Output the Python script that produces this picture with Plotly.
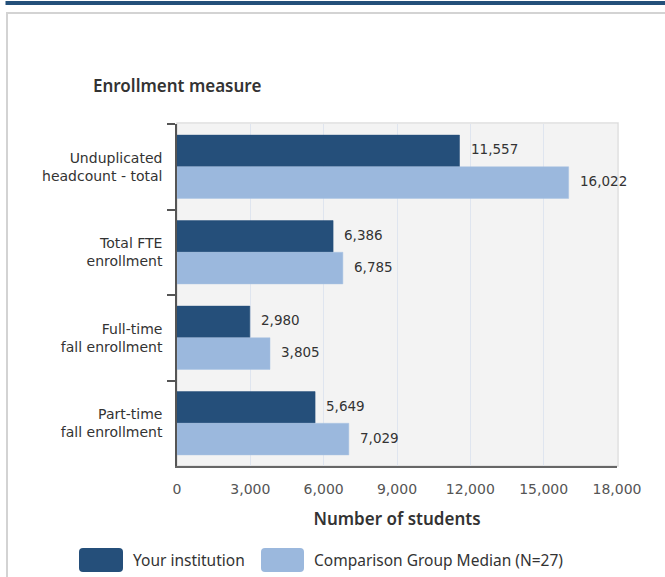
import plotly.graph_objects as go

categories = ["Unduplicated<br>headcount - total", "Total FTE<br>enrollment",
              "Full-time<br>fall enrollment", "Part-time<br>fall enrollment"]
your_institution = [11557, 6386, 2980, 5649]
comparison_median = [16022, 6785, 3805, 7029]
series_names = ["Your institution", "Comparison Group Median (N=27)"]
tick_vals = [0, 3000, 6000, 9000, 12000, 15000, 18000]

DARK = "#254f7a"
LIGHT = "#9bb8dd"

W, H = 665, 577
L, T = 177, 124
PW, PH = 440, 342
R, B = W - L - PW, H - T - PH


def px(x):
    return (x - L) / PW


def py(y):
    return (T + PH - y) / PH


fig = go.Figure()
fig.add_trace(go.Bar(y=categories, x=your_institution, name=series_names[0], orientation="h",
                     marker=dict(color=DARK, line=dict(color=DARK, width=0.5)), showlegend=False))
fig.add_trace(go.Bar(y=categories, x=comparison_median, name=series_names[1], orientation="h",
                     marker=dict(color=LIGHT, line=dict(color="#a9c2e2", width=0.5)), showlegend=False))

lab_font = dict(family="DejaVu Sans", size=13.5, color="#333333")
for vals, shift in ((your_institution, 17.5), (comparison_median, -14.5)):
    for c, v in zip(categories, vals):
        fig.add_annotation(x=v, y=c, text=f"{v:,}", showarrow=False, xanchor="left",
                           xshift=9, yshift=shift, font=lab_font)

shapes = []
# top dark band and panel frame
shapes.append(dict(type="rect", xref="paper", yref="paper", x0=px(5.5), x1=px(670), y0=py(1), y1=py(5),
                   fillcolor="#24507a", line=dict(width=0), layer="below"))
shapes.append(dict(type="line", xref="paper", yref="paper", x0=px(6), x1=px(670), y0=py(13), y1=py(13),
                   line=dict(color="#d3d3d3", width=2)))
shapes.append(dict(type="line", xref="paper", yref="paper", x0=px(7), x1=px(7), y0=py(12), y1=py(590),
                   line=dict(color="#d3d3d3", width=2)))
# plot area border
shapes.append(dict(type="rect", xref="paper", yref="paper", x0=0, x1=px(618), y0=0, y1=py(123),
                   line=dict(color="#dedede", width=1.5), layer="below"))


def rounded(x0, y0, x1, y1, r):
    X0, X1 = px(x0), px(x1)
    Y0, Y1 = py(y0), py(y1)
    rx, ry = r / PW, r / PH
    return (f"M {X0+rx},{Y0} L {X1-rx},{Y0} Q {X1},{Y0} {X1},{Y0-ry} "
            f"L {X1},{Y1+ry} Q {X1},{Y1} {X1-rx},{Y1} L {X0+rx},{Y1} "
            f"Q {X0},{Y1} {X0},{Y1+ry} L {X0},{Y0-ry} Q {X0},{Y0} {X0+rx},{Y0} Z")


shapes.append(dict(type="path", xref="paper", yref="paper", path=rounded(79, 548, 123, 572, 4),
                   fillcolor=DARK, line=dict(width=0)))
shapes.append(dict(type="path", xref="paper", yref="paper", path=rounded(261, 548, 304, 572, 4),
                   fillcolor=LIGHT, line=dict(width=0)))

leg_font = dict(family="Noto Sans", size=15.5, color="#333333")
fig.add_annotation(xref="paper", yref="paper", x=px(131), y=py(560), text=series_names[0],
                   showarrow=False, xanchor="left", yanchor="middle", font=leg_font)
fig.add_annotation(xref="paper", yref="paper", x=px(312), y=py(560), text=series_names[1],
                   showarrow=False, xanchor="left", yanchor="middle", font=leg_font)
fig.add_annotation(xref="paper", yref="paper", x=px(177), y=py(86), text="Enrollment measure",
                   showarrow=False, xanchor="center", yanchor="middle",
                   font=dict(family="Noto Sans", size=17, color="#333333", weight=600))

fig.update_layout(
    width=W, height=H, margin=dict(l=L, r=R, t=T, b=B),
    paper_bgcolor="white", plot_bgcolor="#f3f3f3",
    barmode="group", bargap=0.26, bargroupgap=0,
    shapes=shapes, showlegend=False,
)
fig.update_xaxes(range=[0, 18000], tickvals=tick_vals, tickformat=",", showgrid=True,
                 gridcolor="#dfe5ef", gridwidth=1, showline=True, linecolor="#666666", linewidth=1.5,
                 zeroline=False, ticks="", ticklabelstandoff=9,
                 tickfont=dict(family="DejaVu Sans", size=14, color="#555555"),
                 title=dict(text="Number of students", standoff=18,
                            font=dict(family="Noto Sans", size=17, color="#333333", weight=600)))
fig.update_yaxes(autorange="reversed", showline=True, linecolor="#555555", linewidth=1.5,
                 ticks="outside", ticklen=8, tickcolor="#555555", tickwidth=1.5, tickson="boundaries",
                 showgrid=False, ticklabelstandoff=10,
                 tickfont=dict(family="DejaVu Sans", size=14, color="#333333"))

fig.write_html("out.html", config={"displayModeBar": False},
               post_script="document.body.style.margin='0';document.body.style.overflow='hidden';")
